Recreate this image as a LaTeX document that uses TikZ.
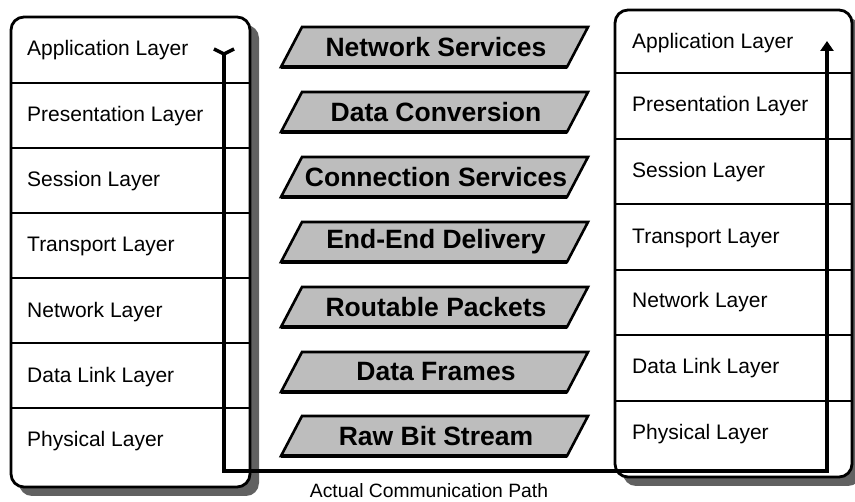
\documentclass[tikz,border=0pt]{standalone}
\usepackage{fontspec}
\setmainfont{Liberation Sans}
\usetikzlibrary{arrows.meta}

\tikzset{
  stackbox/.style={draw=black, line width=2.8pt, fill=white, rounded corners=13pt},
  stackshadow/.style={fill=black!62, rounded corners=13pt},
  rowline/.style={line width=2.2pt},
  layer/.style={anchor=west, inner sep=0pt, font=\fontsize{21}{25}\selectfont},
  bannerframe/.style={draw=black, line width=2.6pt, line join=miter, fill=black!26},
  bannerbase/.style={line width=3.6pt},
  bannertext/.style={inner sep=0pt, font=\bfseries\fontsize{26.5}{30}\selectfont},
  commpath/.style={line width=3.4pt},
  caption/.style={font=\fontsize{19.3}{23}\selectfont}
}

\begin{document}
\begin{tikzpicture}[x=1pt, y=-1pt]
  % page frame
  \fill[white] (0,0) rectangle (855,502);
  \useasboundingbox (0,0) rectangle (855,502);

  % sending stack
  \fill[stackshadow] (19,25) rectangle (259,496);
  \draw[stackbox] (11,17) rectangle (250,487);
  \foreach \yy in {83,148,213,278,343,408}
    \draw[rowline] (11,\yy) -- (250,\yy);
  \node[layer] (la) at (27,50)  {Application Layer};
  \node[layer] (lp) at (27,116) {Presentation Layer};
  \node[layer] (ls) at (27,181) {Session Layer};
  \node[layer] (lt) at (27,246) {Transport Layer};
  \node[layer] (ln) at (27,312) {Network Layer};
  \node[layer] (ld) at (27,377) {Data Link Layer};
  \node[layer] (lh) at (27,441) {Physical Layer};

  % receiving stack
  \fill[stackshadow] (623,18) rectangle (861,486);
  \draw[stackbox] (615,10) rectangle (852,477);
  \foreach \yy in {73,139,204,270,335,401}
    \draw[rowline] (615,\yy) -- (852,\yy);
  \node[layer] (ra) at (632,43)  {Application Layer};
  \node[layer] (rp) at (632,106) {Presentation Layer};
  \node[layer] (rs) at (632,172) {Session Layer};
  \node[layer] (rt) at (632,238) {Transport Layer};
  \node[layer] (rn) at (632,302) {Network Layer};
  \node[layer] (rd) at (632,368) {Data Link Layer};
  \node[layer] (rh) at (632,434) {Physical Layer};

  % peer services between the stacks: slanted banners
  \foreach \nm/\yy/\txt in {b1/47/Network Services, b2/112/Data Conversion,
      b3/177/Connection Services, b4/242/End-End Delivery,
      b5/307/Routable Packets, b6/372/Data Frames, b7/436/Raw Bit Stream}{
    \draw[bannerframe] (302,\yy-20) -- (588,\yy-20) -- (567,\yy+20)
      -- (281,\yy+20) -- cycle;
    \draw[bannerbase] (281,\yy+20) -- (567,\yy+20);
    \node[bannertext] (\nm) at (436,\yy) {\txt};
  }

  % the path data really travels
  \coordinate (pstart) at (224,54);
  \coordinate (pdown)  at (224,471);
  \coordinate (pacross) at (827,471);
  \coordinate (pend)   at (827,41);
  \draw[commpath, -{Triangle[length=10pt,width=13pt]}]
    (pstart) -- (pdown) -- (pacross) -- (pend);
  % fork-shaped tail at the start
  \draw[commpath, line join=miter] (214,49) -- (pstart) -- (234,49);
  \node[caption] (cap) at (429,491) {Actual Communication Path};
\end{tikzpicture}
\end{document}
